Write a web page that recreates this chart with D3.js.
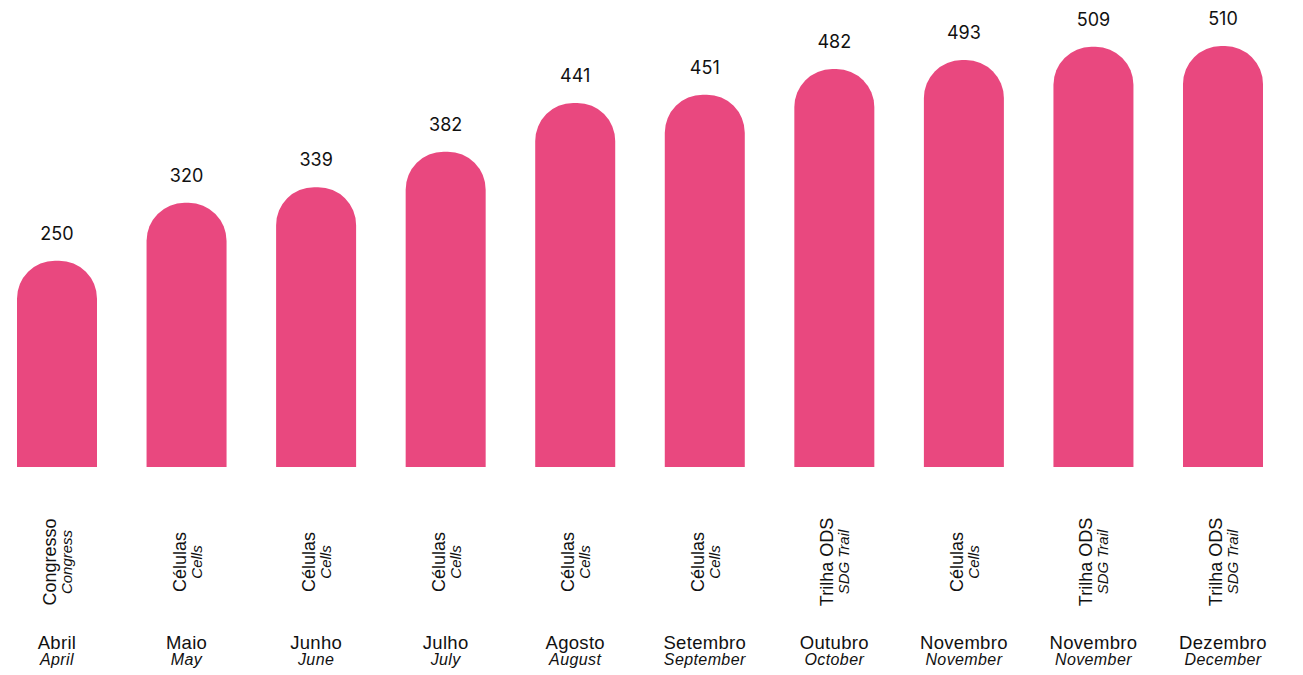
<!DOCTYPE html>
<html>
<head>
<meta charset="utf-8">
<script src="https://cdn.jsdelivr.net/npm/d3@7"></script>
<style>
  body { margin: 0; background: #fff; }
  svg { display: block; }
</style>
</head>
<body>
<svg id="chart" width="1303" height="675"></svg>
<script>
// Chart data
const values = [250, 320, 339, 382, 441, 451, 482, 493, 509, 510];
const eventsPt = ["Congresso", "Células", "Células", "Células", "Células", "Células", "Trilha ODS", "Células", "Trilha ODS", "Trilha ODS"];
const eventsEn = ["Congress", "Cells", "Cells", "Cells", "Cells", "Cells", "SDG Trail", "Cells", "SDG Trail", "SDG Trail"];
const monthsPt = ["Abril", "Maio", "Junho", "Julho", "Agosto", "Setembro", "Outubro", "Novembro", "Novembro", "Dezembro"];
const monthsEn = ["April", "May", "June", "July", "August", "September", "October", "November", "November", "December"];

const svg = d3.select("#chart");
const pink = "#E9487F";
const baseFont = "'Liberation Sans', Arial, sans-serif";
const numFont = "Inter, 'Open Sans', sans-serif";

const x = d3.scaleBand()
  .domain(d3.range(values.length))
  .range([17, 1263])
  .paddingInner(0.3825)
  .paddingOuter(0);

const y = d3.scaleLinear()
  .domain([0, 510])
  .range([467, 46]);

// bar with rounded top corners
function barPath(i) {
  const x0 = x(i), w = x.bandwidth();
  const top = y(values[i]), bottom = y(0);
  const r = 38;
  return `M${x0},${bottom}V${top + r}` +
    `A${r},${r} 0 0 1 ${x0 + r},${top}` +
    `H${x0 + w - r}` +
    `A${r},${r} 0 0 1 ${x0 + w},${top + r}` +
    `V${bottom}Z`;
}

const g = svg.append("g");

g.selectAll("path.bar")
  .data(values)
  .enter().append("path")
  .attr("class", "bar")
  .attr("fill", pink)
  .attr("d", (d, i) => barPath(i));

// value labels
g.selectAll("text.value")
  .data(values)
  .enter().append("text")
  .attr("class", "value")
  .attr("x", (d, i) => x(i) + x.bandwidth() / 2)
  .attr("y", d => y(d) - 21)
  .attr("text-anchor", "middle")
  .style("font-family", numFont)
  .style("font-size", "18px")
  .attr("fill", "#111")
  .text(d => d);

// rotated event labels
const ev = g.selectAll("g.event")
  .data(values)
  .enter().append("g")
  .attr("class", "event")
  .attr("transform", (d, i) => `translate(${x(i) + x.bandwidth() / 2},562) rotate(-90)`);

ev.append("text")
  .attr("y", -1)
  .attr("text-anchor", "middle")
  .style("font-family", baseFont)
  .style("font-size", "18px")
  .attr("fill", "#111")
  .text((d, i) => eventsPt[i]);

ev.append("text")
  .attr("y", 15)
  .attr("text-anchor", "middle")
  .style("font-family", baseFont)
  .style("font-size", "15px")
  .style("font-style", "italic")
  .attr("fill", "#111")
  .text((d, i) => eventsEn[i]);

// month labels
g.selectAll("text.month")
  .data(values)
  .enter().append("text")
  .attr("class", "month")
  .attr("x", (d, i) => x(i) + x.bandwidth() / 2)
  .attr("y", 649)
  .attr("text-anchor", "middle")
  .style("font-family", baseFont)
  .style("font-size", "18.5px")
  .style("letter-spacing", "0.3px")
  .attr("fill", "#111")
  .text((d, i) => monthsPt[i]);

g.selectAll("text.month-en")
  .data(values)
  .enter().append("text")
  .attr("class", "month-en")
  .attr("x", (d, i) => x(i) + x.bandwidth() / 2)
  .attr("y", 665)
  .attr("text-anchor", "middle")
  .style("font-family", baseFont)
  .style("font-size", "16px")
  .style("font-style", "italic")
  .style("letter-spacing", "0.4px")
  .attr("fill", "#111")
  .text((d, i) => monthsEn[i]);
</script>
</body>
</html>
